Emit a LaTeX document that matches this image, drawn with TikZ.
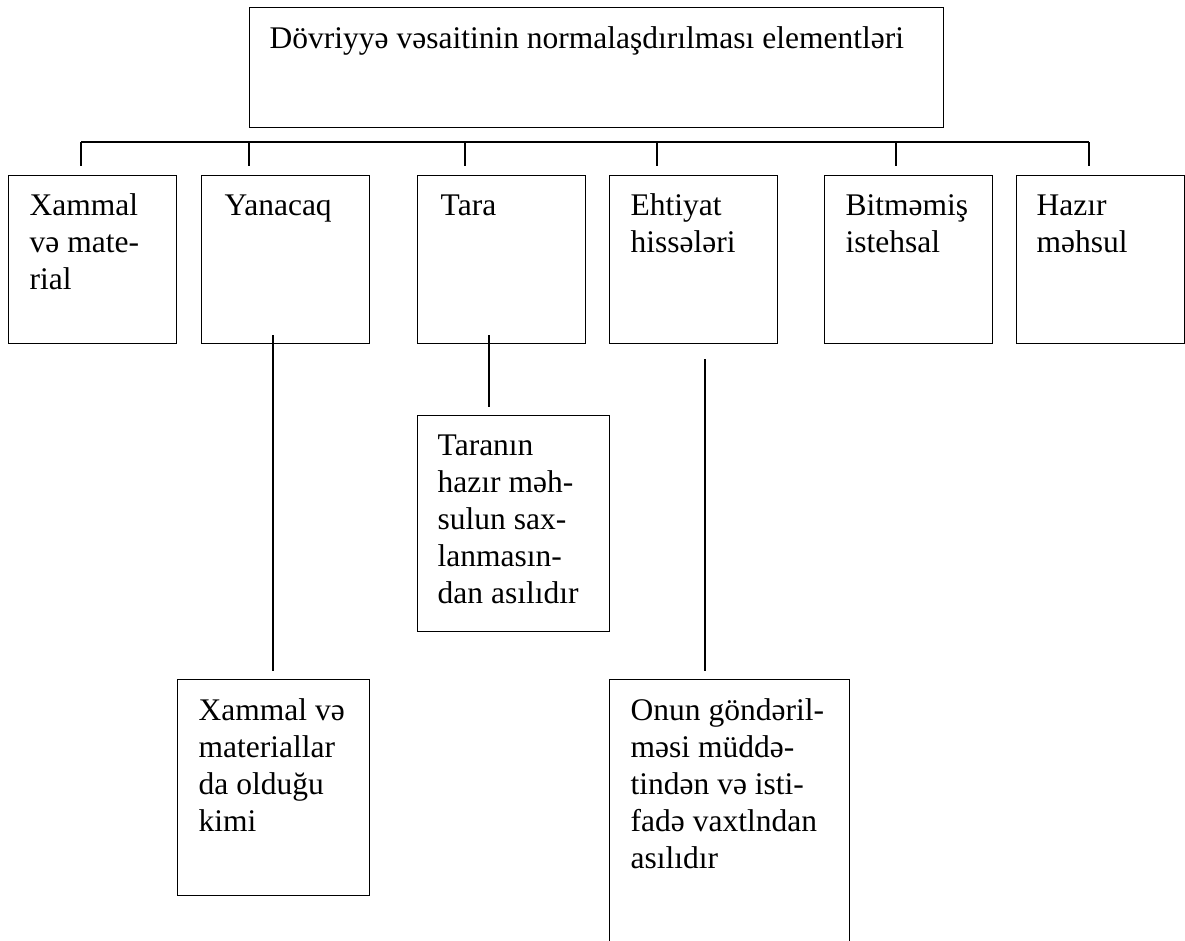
\documentclass[tikz,border=0pt]{standalone}
\usepackage{fontspec}
\setmainfont{Liberation Serif}
\usetikzlibrary{calc}
\begin{document}
\begin{tikzpicture}[x=1pt,y=-1pt,
  line width=1.4pt,
  box/.style={draw, inner sep=0pt, anchor=north west},
  rowbox/.style={box, minimum width=168pt, minimum height=168pt},
  txt/.style={inner sep=0pt, anchor=base west,
    font=\fontsize{31.5}{37}\selectfont},
]
\useasboundingbox (0,0) rectangle (1185,940);
\clip (0,0) rectangle (1185,940);

% title box
\node[box, minimum width=694pt, minimum height=120pt] (top) at (249,7) {};
\node[txt] (ttop) at ($(top.north west)+(20,41)$)
  {Dövriyyə vəsaitinin normalaşdırılması elementləri};

% first row of boxes
\node[rowbox] (b1) at (8,175) {};
\node[rowbox] (b2) at (201,175) {};
\node[rowbox] (b3) at (417,175) {};
\node[rowbox] (b4) at (609,175) {};
\node[rowbox] (b5) at (824,175) {};
\node[rowbox] (b6) at (1016,175) {};

\node[txt] (t1) at ($(b1.north west)+(21,40)$) {\parbox[t]{200pt}{Xammal\\və mate-\\rial}};
\node[txt] (t2) at ($(b2.north west)+(23,40)$) {Yanacaq};
\node[txt] (t3) at ($(b3.north west)+(23,40)$) {Tara};
\node[txt] (t4) at ($(b4.north west)+(21,40)$) {\parbox[t]{200pt}{Ehtiyat\\hissələri}};
\node[txt] (t5) at ($(b5.north west)+(21,40)$) {\parbox[t]{200pt}{Bitməmiş\\istehsal}};
\node[txt] (t6) at ($(b6.north west)+(20,40)$) {\parbox[t]{200pt}{Hazır\\məhsul}};

% second-level boxes
\node[box, minimum width=192pt, minimum height=216pt] (c2) at (177,679) {};
\node[box, minimum width=192pt, minimum height=216pt] (c3) at (417,415) {};
\node[box, minimum width=240pt, minimum height=300pt] (c4) at (609,679) {};

\node[txt] (s2) at ($(c2.north west)+(21,41)$)
  {\parbox[t]{200pt}{Xammal və\\materiallar\\da olduğu\\kimi}};
\node[txt] (s3) at ($(c3.north west)+(20,40)$)
  {\parbox[t]{200pt}{Taranın\\hazır məh-\\sulun sax-\\lanmasın-\\dan asılıdır}};
\node[txt] (s4) at ($(c4.north west)+(21,41)$)
  {\parbox[t]{240pt}{Onun göndəril-\\məsi müddə-\\tindən və isti-\\fadə vaxtlndan\\asılıdır}};

% distribution bus and its drops
\coordinate (busL) at (81,142);
\coordinate (busR) at (1089,142);
\draw (busL) -- (busR);
\foreach \b/\dx in {b1/73, b2/48, b3/48, b4/48, b5/72, b6/73}{
  \coordinate (d\b) at ($(\b.north west)+(\dx,-9)$);
  \draw (busL -| d\b) -- (d\b);
}

% links to second-level boxes
\coordinate (y1) at ($(b2.south west)+(72,-9)$);
\coordinate (y2) at ($(c2.north west)+(96,-8)$);
\draw (y1) -- (y2);
\coordinate (r1) at ($(b3.south west)+(72,-9)$);
\coordinate (r2) at ($(c3.north west)+(72,-8)$);
\draw (r1) -- (r2);
\coordinate (e1) at ($(b4.south west)+(96,15)$);
\coordinate (e2) at ($(c4.north west)+(96,-8)$);
\draw (e1) -- (e2);
\end{tikzpicture}
\end{document}
